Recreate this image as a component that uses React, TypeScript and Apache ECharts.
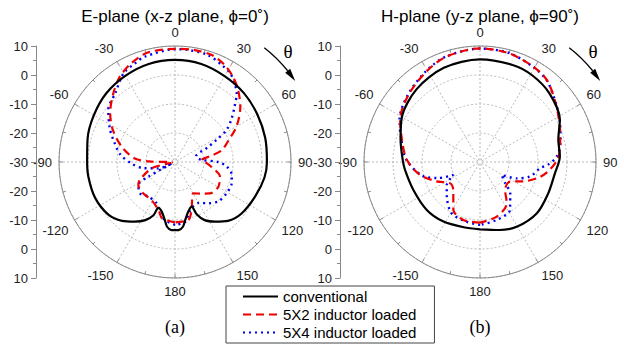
import React, { useEffect, useRef } from "react";
import * as echarts from "echarts";

const FONT = "'Liberation Sans', Arial, sans-serif";
const SERIF = "'Liberation Serif', 'Times New Roman', serif";

// ---------- data (angle in degrees, gain in dB) ----------
const SERIES_NAMES = ["conventional", "5X2 inductor loaded", "5X4 inductor loaded"];
const PANEL_TITLES = ["E-plane (x-z plane, \u03D5=0\u02DA)", "H-plane (y-z plane, \u03D5=90\u02DA)"];
const PANEL_TAGS = ["(a)", "(b)"];

// E-plane, conventional
const E_CONV_ANG = [-180, -177, -173, -170, -165, -160, -158, -153, -146, -138, -128, -114, -100, -90, -75, -60, -45, -30, -15, 0, 15, 30, 45, 60, 75, 90, 100, 113, 128, 138, 146, 153, 157.5, 159.5, 165, 170, 173, 177, 180];
const E_CONV_DB = [-6.5, -6.5, -7.5, -9.7, -12.3, -13.2, -10.2, -7.5, -5.2, -2.7, -0.7, 0.2, 0.3, 0.3, 1.2, 2.3, 3.5, 4.3, 5.0, 5.2, 5.0, 4.2, 3.6, 2.8, 2.2, 1.7, 1.3, 0.1, -1.0, -2.7, -5.2, -7.5, -10.5, -13.6, -12.3, -9.7, -7.5, -6.5, -6.5];

// E-plane, 5X2 inductor loaded
const E_5X2_ANG = [-180, -167, -161, -148, -135, -122, -117, -105, -97, -89, -85, -74, -63, -53, -42, -33, -24, -14, 0, 10, 19, 27, 34, 41, 50, 60, 68, 76, 80, 86, 90, 98, 108, 120, 132, 140, 150, 161, 167, 180];
const E_5X2_DB = [-9.2, -10.1, -12.5, -14.6, -14.6, -15.1, -16.4, -21.7, -29, -22, -16.1, -10.9, -6.0, -2.0, 1.8, 5.0, 7.2, 8.9, 9.0, 9.2, 9.0, 7.6, 5.6, 3.1, -0.6, -5.5, -10.1, -13.4, -17.1, -20.8, -19.7, -17.2, -13.7, -12.8, -13.8, -15.8, -17.5, -12.5, -9.5, -9.2];

// E-plane, 5X4 inductor loaded
const E_5X4_ANG = [-180, -170, -164, -156, -142, -132, -122, -119, -115, -111, -101, -92, -82, -72, -63, -52, -41, -30, -22, -16, 0, 7, 17, 26, 32, 37, 42, 47, 53, 58, 62, 66, 75, 85, 90, 95, 103, 111, 121, 132, 141, 150, 158, 165, 170, 180];
const E_5X4_DB = [-8.3, -9.7, -11.6, -14.4, -14.9, -13.8, -15.1, -19.5, -29, -23.9, -18.9, -15.0, -10.9, -8.0, -4.8, -0.8, 1.4, 5.4, 6.7, 7.8, 8.9, 8.9, 8.6, 7.1, 6.0, 4.1, 1.8, -1.9, -5.7, -9.0, -13.8, -17.8, -22.5, -21, -15.1, -12.1, -9.9, -9.1, -9.2, -9.8, -11.7, -13.7, -13.5, -11.7, -9.1, -8.3];

// H-plane, conventional
const H_CONV_ANG = [-180, -166, -148, -132, -113, -96, -88, -74, -60, -41, -21, 0, 19, 31, 45, 62, 74, 86, 99, 115, 132, 150, 164, 180];
const H_CONV_DB = [-6.8, -6.8, -5.9, -5.3, -5.1, -4.0, -3.3, -1.5, 1.1, 3.3, 4.8, 5.4, 5.3, 4.9, 3.7, 1.2, -1.9, -2.4, -3.9, -4.1, -3.6, -4.3, -5.6, -6.8];

// H-plane, 5X2 inductor loaded
const H_5X2_ANG = [-180, -164, -151, -136, -125, -114, -102, -88, -74, -62, -47, -31, -18, 0, 15, 30, 40, 54, 66, 76, 87, 96, 104, 114, 123, 138, 147, 163, 180];
const H_5X2_DB = [-9.1, -9.2, -11.1, -16.7, -17.3, -13.6, -8.8, -4.7, -2.0, 1.2, 3.8, 6.2, 8.1, 9.2, 8.8, 7.6, 6.3, 2.6, 0.1, -1.5, -3.0, -5.7, -8.7, -13.6, -17.6, -17.1, -13.0, -10.3, -9.1];

// H-plane, 5X4 inductor loaded
const H_5X4_ANG = [-180, -167, -151, -135, -125, -116, -111, -104, -88, -74, -62, -47, -31, -18, 0, 15, 30, 40, 54, 66, 76, 86, 92, 96, 106, 114, 121, 130, 136, 148, 164, 180];
const H_5X4_DB = [-8.3, -8.9, -9.8, -13.8, -16.0, -19.8, -14.6, -9.8, -4.5, -1.8, 1.4, 4.0, 6.4, 8.2, 9.1, 8.9, 7.5, 6.2, 2.7, 0.3, -1.4, -3.5, -6.4, -9.2, -12.0, -16.1, -21.3, -18.7, -15.0, -10.5, -9.2, -8.3];

const pairs = (ang: number[], db: number[]) => ang.map((a, i) => [db[i], a]);

const CENTERS = [
  [175, 162],
  [480, 162],
];
const R = 116;

const LINE_STYLES = [
  { color: "#000000", width: 2.2, type: "solid" as any },
  { color: "#ee0000", width: 2.2, type: [8, 5] as any },
  { color: "#0000ee", width: 2.4, type: [2, 4] as any },
];

export default function App() {
  const ref = useRef<HTMLDivElement>(null);

  useEffect(() => {
    if (!ref.current) return;
    const chart = echarts.init(ref.current, undefined, { renderer: "svg" });

    const gridColor = "#a8a8a8";
    const axisColor = "#888888";

    const panelData = [
      [pairs(E_CONV_ANG, E_CONV_DB), pairs(E_5X2_ANG, E_5X2_DB), pairs(E_5X4_ANG, E_5X4_DB)],
      [pairs(H_CONV_ANG, H_CONV_DB), pairs(H_5X2_ANG, H_5X2_DB), pairs(H_5X4_ANG, H_5X4_DB)],
    ];

    const series: any[] = [];
    panelData.forEach((set, p) => {
      set.forEach((d, k) => {
        series.push({
          type: "line",
          name: SERIES_NAMES[k],
          coordinateSystem: "polar",
          polarIndex: p,
          data: d,
          symbol: "none",
          smooth: 0.3,
          lineStyle: LINE_STYLES[k],
          itemStyle: { color: LINE_STYLES[k].color },
          z: 10 - k,
        });
      });
    });

    const graphic: any[] = [];
    CENTERS.forEach((c, p) => {
      const [cx, cy] = c;
      graphic.push({
        type: "text",
        x: cx,
        y: 16,
        style: {
          text: PANEL_TITLES[p],
          align: "center",
          verticalAlign: "middle",
          fontSize: 17,
          fontFamily: FONT,
          fill: "#000",
        },
      });
      graphic.push({
        type: "text",
        x: cx,
        y: 327,
        style: {
          text: PANEL_TAGS[p],
          align: "center",
          verticalAlign: "middle",
          fontSize: 18,
          fontFamily: SERIF,
          fill: "#000",
        },
      });
      graphic.push({
        type: "text",
        x: cx + 113,
        y: 51,
        style: {
          text: "\u03B8",
          align: "center",
          verticalAlign: "middle",
          fontSize: 19,
          fontFamily: SERIF,
          fill: "#000",
        },
      });
      const ar = 145;
      const deg = Math.PI / 180;
      const a0 = 38, a1 = 51, a2 = 56;
      graphic.push({
        type: "arc",
        shape: { cx, cy, r: ar, startAngle: (a0 - 90) * deg, endAngle: (a1 - 90) * deg, clockwise: true },
        style: { stroke: "#000", lineWidth: 1.3, fill: "none" },
      });
      const pt = (th: number, r: number) => [cx + r * Math.sin(th * deg), cy - r * Math.cos(th * deg)];
      const tip = pt(a2, ar);
      const b1 = pt(a1, ar + 3.2);
      const b2 = pt(a1, ar - 3.2);
      graphic.push({
        type: "polygon",
        shape: { points: [tip, b1, b2] },
        style: { fill: "#000", stroke: "none" },
      });
    });

    const option: any = {
      animation: false,
      backgroundColor: "#ffffff",
      polar: CENTERS.map((c) => ({ center: c, radius: R })),
      angleAxis: CENTERS.map((_, i) => ({
        polarIndex: i,
        type: "value",
        min: -180,
        max: 180,
        interval: 30,
        startAngle: -90,
        clockwise: true,
        axisLine: { show: true, lineStyle: { color: axisColor, width: 1 } },
        axisTick: { show: true, inside: true, length: 4, lineStyle: { color: axisColor } },
        minorTick: { show: true, splitNumber: 2, length: 3, lineStyle: { color: axisColor } },
        axisLabel: {
          show: true,
          margin: 7,
          fontSize: 13,
          color: "#222",
          fontFamily: FONT,
          formatter: (v: number) => (v === -180 ? "180" : String(v)),
        },
        splitLine: { show: true, lineStyle: { color: gridColor, type: [2, 2], width: 0.8 } },
      })),
      radiusAxis: CENTERS.map((_, i) => ({
        polarIndex: i,
        type: "value",
        min: -30,
        max: 10,
        interval: 10,
        axisLine: { show: false },
        axisTick: { show: false },
        axisLabel: { show: false },
        splitLine: { show: true, lineStyle: { color: gridColor, type: [2, 2], width: 0.8 } },
      })),
      grid: [
        { left: 36, top: 46, height: 232, width: 1 },
        { left: 340, top: 46, height: 232, width: 1 },
      ],
      xAxis: [
        { gridIndex: 0, type: "value", show: false },
        { gridIndex: 1, type: "value", show: false },
      ],
      yAxis: [0, 1].map((i) => ({
        gridIndex: i,
        type: "value",
        min: -40,
        max: 40,
        interval: 10,
        axisLine: { show: true, lineStyle: { color: axisColor, width: 1 } },
        axisTick: { show: true, length: 5, lineStyle: { color: axisColor } },
        minorTick: { show: true, splitNumber: 2, length: 3, lineStyle: { color: axisColor } },
        splitLine: { show: false },
        axisLabel: {
          formatter: (v: number) => String(Math.abs(v) - 30),
          fontSize: 13,
          color: "#222",
          fontFamily: FONT,
          margin: 8,
        },
      })),
      legend: {
        data: SERIES_NAMES,
        orient: "vertical",
        left: 226,
        top: 286,
        padding: [3, 18, 3, 16],
        itemWidth: 35,
        itemHeight: 14,
        itemGap: 3,
        itemTextGap: 5,
        borderColor: "#444",
        borderWidth: 1,
        selectedMode: false,
        itemStyle: { opacity: 0 },
        textStyle: { fontSize: 15, fontFamily: FONT, color: "#000" },
      },
      graphic,
      series,
    };

    chart.setOption(option);
    return () => chart.dispose();
  }, []);

  return (
    <div
      ref={ref}
      style={{ position: "fixed", left: 0, top: 0, width: 624, height: 344, background: "#fff" }}
    />
  );
}
